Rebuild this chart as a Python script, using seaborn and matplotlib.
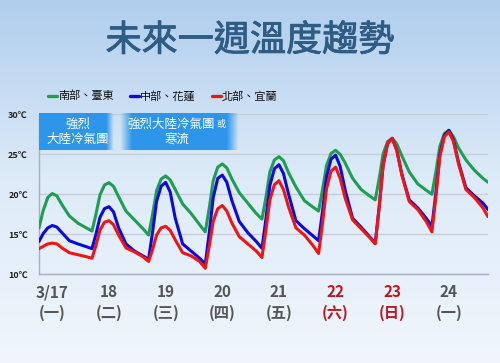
import numpy as np
import pandas as pd
import seaborn as sns
import matplotlib.pyplot as plt
import matplotlib.patheffects as pe
from matplotlib.lines import Line2D

# time in days from the 3/17 tick (ticks sit on the afternoon peak)
days = [-0.235, -0.16, -0.08,
        0, 0.08, 0.17, 0.3, 0.45, 0.6, 0.7, 0.77, 0.84, 0.92,
        1, 1.08, 1.17, 1.3, 1.45, 1.6, 1.7, 1.77, 1.84, 1.92,
        2, 2.08, 2.17, 2.3, 2.45, 2.6, 2.7, 2.77, 2.84, 2.92,
        3, 3.08, 3.17, 3.3, 3.45, 3.6, 3.7, 3.77, 3.84, 3.92,
        4, 4.08, 4.17, 4.3, 4.45, 4.6, 4.7, 4.77, 4.84, 4.92,
        5, 5.08, 5.17, 5.3, 5.45, 5.6, 5.7, 5.77, 5.84, 5.92,
        6, 6.08, 6.17, 6.3, 6.45, 6.6, 6.7, 6.77, 6.84, 6.92,
        7, 7.08, 7.17, 7.3, 7.45, 7.6, 7.69]

south = [15.8, 18.0, 19.6,
         20.1, 19.8, 18.7, 17.3, 16.4, 15.8, 15.4, 17.5, 19.9, 21.15,
         21.45, 21.0, 19.7, 17.9, 16.8, 15.7, 14.9, 17.5, 20.45, 21.9,
         22.3, 21.8, 20.6, 18.8, 17.6, 16.2, 15.3, 18.3, 21.7, 23.4,
         23.8, 23.3, 21.9, 20.2, 18.9, 17.6, 16.9, 19.6, 22.8, 24.3,
         24.7, 24.2, 22.7, 20.9, 19.2, 18.4, 17.9, 20.6, 23.6, 25.1,
         25.5, 25.0, 23.9, 22.0, 20.6, 19.8, 19.3, 22.0, 25.1, 26.6,
         27.0, 26.3, 24.8, 22.8, 21.3, 20.5, 20.0, 22.8, 26.0, 27.6,
         28.0, 27.2, 25.8, 24.3, 23.0, 22.0, 21.5]

central = [14.1, 15.1, 15.8,
           16.1, 15.9, 15.2, 14.2, 13.8, 13.45, 13.2, 15.0, 17.1, 18.2,
           18.45, 17.8, 15.8, 13.8, 12.9, 12.3, 11.9, 15.3, 19.1, 21.0,
           21.5, 20.3, 17.0, 13.8, 12.9, 12.0, 11.3, 15.2, 19.6, 22.0,
           22.4, 21.5, 19.2, 16.6, 15.2, 14.1, 13.25, 16.9, 21.1, 23.2,
           23.7, 22.6, 20.0, 16.7, 15.7, 14.8, 14.2, 17.9, 22.2, 24.4,
           24.9, 23.5, 20.5, 17.0, 15.9, 14.7, 13.9, 18.5, 23.7, 26.4,
           27.0, 25.5, 22.5, 19.3, 18.3, 17.0, 16.0, 20.2, 25.0, 27.4,
           28.0, 26.8, 24.0, 20.8, 19.8, 18.9, 18.1]

north = [13.2, 13.5, 13.8,
         13.9, 13.8, 13.3, 12.7, 12.45, 12.2, 12.0, 13.6, 15.5, 16.5,
         16.7, 16.2, 14.9, 13.3, 12.8, 12.2, 11.6, 13.1, 14.9, 15.8,
         16.0, 15.5, 14.3, 12.7, 12.3, 11.6, 10.75, 13.5, 16.6, 18.2,
         18.6, 17.9, 16.4, 14.7, 13.8, 12.9, 12.1, 15.5, 19.3, 21.2,
         21.7, 20.6, 18.4, 15.8, 14.9, 13.6, 12.6, 16.4, 20.7, 22.9,
         23.4, 22.0, 19.5, 16.8, 15.7, 14.6, 13.8, 18.4, 23.7, 26.4,
         27.0, 25.5, 22.4, 19.1, 18.1, 16.6, 15.3, 19.6, 24.7, 27.2,
         27.8, 26.6, 23.8, 20.6, 19.6, 18.3, 17.2]

regions = ["南部、臺東", "中部、花蓮", "北部、宜蘭"]
colors = ["#1d9e52", "#0a0ae0", "#f01414"]

tick_days = list(range(8))
tick_labels = ["3/17\n(一)", "18\n(二)", "19\n(三)", "20\n(四)",
               "21\n(五)", "22\n(六)", "23\n(日)", "24\n(一)"]
weekend = [False, False, False, False, False, True, True, False]

y_ticks = [10, 15, 20, 25, 30]

df = pd.concat([
    pd.DataFrame({"day": days, "temp": vals, "region": name})
    for name, vals in zip(regions, [south, central, north])
])

sns.set_style("white")
plt.rcParams["font.family"] = ["Noto Sans CJK TC", "DejaVu Sans"]

fig = plt.figure(figsize=(5, 3.63), dpi=100)

# background gradient
bg = fig.add_axes([0, 0, 1, 1], zorder=-10)
top = np.array([176, 206, 238]) / 255
mid = np.array([222, 235, 248]) / 255
bot = np.array([240, 246, 252]) / 255
yy = np.linspace(0, 1, 363)[:, None]
grad = np.where(yy < 0.5, top + (mid - top) * (yy / 0.5), mid + (bot - mid) * ((yy - 0.5) / 0.5))
bg.imshow(grad.reshape(363, 1, 3), aspect="auto", extent=[0, 1, 0, 1])
bg.axis("off")

ax = fig.add_axes([0.078, 0.2444, 0.898, 0.4407])
ax.set_facecolor("none")

sns.lineplot(data=df, x="day", y="temp", hue="region", palette=dict(zip(regions, colors)),
             linewidth=2.2, legend=False, sort=False, estimator=None, ax=ax, zorder=3)
for ln in ax.lines:
    ln.set_solid_joinstyle("round")
    ln.set_solid_capstyle("round")

ax.set_xlim(-0.235, 7.69)
ax.set_ylim(10, 30)
ax.set_xlabel("")
ax.set_ylabel("")
ax.set_yticks(y_ticks)
ax.set_yticklabels([f"{v}℃" for v in y_ticks], fontsize=6.5, fontweight="bold", color="#222222")
ax.set_xticks(tick_days)
ax.set_xticklabels(tick_labels, fontsize=11, fontweight="bold", linespacing=1.35)
for lab, we in zip(ax.get_xticklabels(), weekend):
    lab.set_color("#c0141e" if we else "#555555")
ax.tick_params(axis="x", length=0, pad=7)
ax.tick_params(axis="y", length=0, pad=8)
ax.grid(axis="y", color="#c8ced6", linewidth=1)
ax.set_axisbelow(True)
for s in ["top", "right"]:
    ax.spines[s].set_visible(False)
for s in ["left", "bottom"]:
    ax.spines[s].set_color("#a9b0b8")
    ax.spines[s].set_linewidth(1)


# cold air mass banners
def banner(x0, x1, fade_left):
    n = 200
    xs = np.linspace(0, 1, n)
    edge = 0.1
    alpha = np.clip((1 - xs) / edge, 0, 1)
    if fade_left:
        alpha = np.minimum(alpha, np.clip(xs / edge, 0, 1))
    img = np.zeros((1, n, 4))
    img[..., 0] = 0.18
    img[..., 1] = 0.59
    img[..., 2] = 0.92
    img[..., 3] = alpha
    bax = fig.add_axes([x0 / 500, 1 - 150 / 363, (x1 - x0) / 500, 36.7 / 363], zorder=5)
    bax.imshow(img, aspect="auto", extent=[0, 1, 0, 1])
    bax.axis("off")


banner(39.3, 114, False)
banner(120, 239, True)


def ftxt(x, y, s, **kw):
    return fig.text(x / 500, 1 - y / 363, s, zorder=10, **kw)


ftxt(77.5, 124, "強烈", fontsize=9, color="white", ha="center", va="center")
ftxt(77.5, 140, "大陸冷氣團", fontsize=9, color="white", ha="center", va="center")
ftxt(215, 124, "強烈大陸冷氣團", fontsize=9, color="white", ha="right", va="center")
ftxt(216, 125, "或", fontsize=6.5, color="white", ha="left", va="center")
ftxt(177.5, 140, "寒流", fontsize=9, color="white", ha="center", va="center")

# title - a bit heavier than regular, lighter than bold
title = ftxt(250, 41, "未來一週溫度趨勢", fontsize=26, color="#2e5c84", ha="center", va="center")
title.set_path_effects([pe.withStroke(linewidth=0.6, foreground="#2e5c84")])

# legend
leg_x = [48, 130, 212]
for x, name, c in zip(leg_x, regions, colors):
    fig.add_artist(Line2D([x / 500, (x + 9) / 500], [1 - 96 / 363] * 2, color=c, linewidth=2.4))
    ftxt(x + 10, 96, name, fontsize=8, color="#111111", ha="left", va="center")

fig.savefig("out.png", dpi=100)
